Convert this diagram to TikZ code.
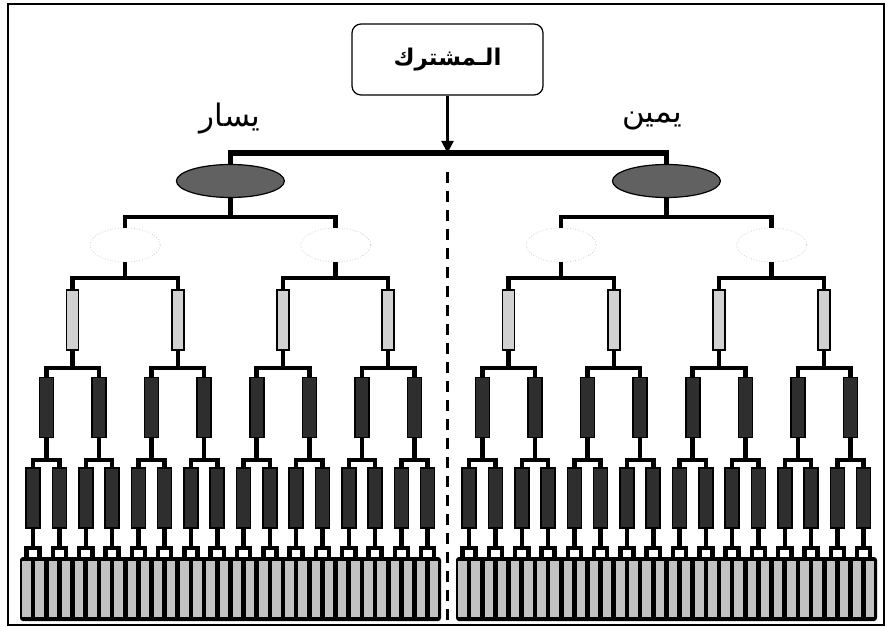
\documentclass[tikz,border=0pt]{standalone}
\usepackage{fontspec}
\newfontfamily\arabicfont[Script=Arabic]{DejaVu Sans}
\TeXXeTstate=1
\usetikzlibrary{shapes.geometric,arrows.meta}
\begin{document}
\begin{tikzpicture}[x=1pt,y=-1pt,
  conn/.style={line width=4.5pt,line join=miter},
  rootbar/.style={line width=5.5pt,line join=miter},
  rootbox/.style={draw=black,line width=1.2pt,rounded corners=9pt,minimum width=191pt,minimum height=71pt,inner sep=0pt},
  lightbox/.style={draw=black,line width=1.6pt,fill=black!18,minimum width=12pt,minimum height=60pt,inner sep=0pt},
  darkbox/.style={draw=black,line width=1.6pt,fill=black!82,minimum width=14pt,minimum height=60pt,inner sep=0pt},
  stripbox/.style={fill=black!24,minimum width=8.5pt,minimum height=56pt,inner sep=0pt},
  bandbox/.style={fill=black,rounded corners=3pt,minimum width=421pt,minimum height=64pt,inner sep=0pt},
  bigell/.style={ellipse,draw=black,line width=1.2pt,fill=black!62,minimum width=108pt,minimum height=33pt,inner sep=0pt},
  faintell/.style={ellipse,draw=black!25,dotted,line width=0.7pt,minimum width=70pt,minimum height=34pt,inner sep=0pt},
  lbl/.style={inner sep=0pt,font=\arabicfont\fontsize{31}{36}\selectfont},
]
\useasboundingbox (0,0) rectangle (888,628);
\draw[line width=1.5pt] (8,4) rectangle (884,625);

% root
\node[rootbox] (root) at (447.5,59.5) {\arabicfont\bfseries\fontsize{23}{27}\selectfont\beginR الـمشترك\endR};
\coordinate (rb) at (447.5,153);
\draw[line width=2.2pt,-{Triangle[width=12pt,length=12pt]}] (root.south) -- (rb);

% labels
\node[lbl] (lblL) at (230,119) {\beginR يسار\endR};
\node[lbl] (lblR) at (652,121) {\beginR يمين\endR};

% dashed divider
\coordinate (dtop) at (447.5,172);
\coordinate (dbot) at (447.5,622);
\draw[line width=3.2pt,dash pattern=on 11pt off 8pt] (dtop) -- (dbot);

\foreach \h/\a in {0/20,1/456}{
  % band and strips
  \node[bandbox] (band-\h) at ({\a+210.5},589) {};
  \foreach \i in {0,...,31}{
    \node[stripbox] (s-\h-\i) at ({\a+6.575+13.15*\i},589) {};
  }
  % level 2
  \node[bigell] (e2-\h) at ({\a+210.4},181) {};
  \coordinate (k3-\h) at ({\a+210.4},217);
  % level 3
  \foreach \n in {0,1}{
    \node[faintell] (e3-\h-\n) at ({\a+105.2+210.4*\n},245) {};
    \coordinate (k4-\h-\n) at ({\a+105.2+210.4*\n},278);
    \draw[conn] (e2-\h.south) -- (k3-\h) -| (e3-\h-\n.north);
  }
  % level 4
  \foreach \m in {0,...,3}{
    \pgfmathtruncatemacro\p{div(\m,2)}
    \node[lightbox] (b4-\h-\m) at ({\a+52.6+105.2*\m},320) {};
    \coordinate (k5-\h-\m) at ({\a+52.6+105.2*\m},368);
    \draw[conn] (e3-\h-\p.south) -- (k4-\h-\p) -| (b4-\h-\m.north);
  }
  % level 5
  \foreach \k in {0,...,7}{
    \pgfmathtruncatemacro\p{div(\k,2)}
    \node[darkbox] (b5-\h-\k) at ({\a+26.3+52.6*\k},407.5) {};
    \coordinate (k6-\h-\k) at ({\a+26.3+52.6*\k},460);
    \draw[conn] (b4-\h-\p.south) -- (k5-\h-\p) -| (b5-\h-\k.north);
  }
  % level 6
  \foreach \j in {0,...,15}{
    \pgfmathtruncatemacro\p{div(\j,2)}
    \node[darkbox] (b6-\h-\j) at ({\a+13.15+26.3*\j},498) {};
    \coordinate (k7-\h-\j) at ({\a+13.15+26.3*\j},548);
    \draw[conn] (b5-\h-\p.south) -- (k6-\h-\p) -| (b6-\h-\j.north);
  }
  % leaves
  \foreach \i in {0,...,31}{
    \pgfmathtruncatemacro\p{div(\i,2)}
    \draw[conn] (b6-\h-\p.south) -- (k7-\h-\p) -| (s-\h-\i.north);
  }
}
% root bar
\draw[rootbar] (e2-0.north) |- (rb) -| (e2-1.north);
\end{tikzpicture}
\end{document}
